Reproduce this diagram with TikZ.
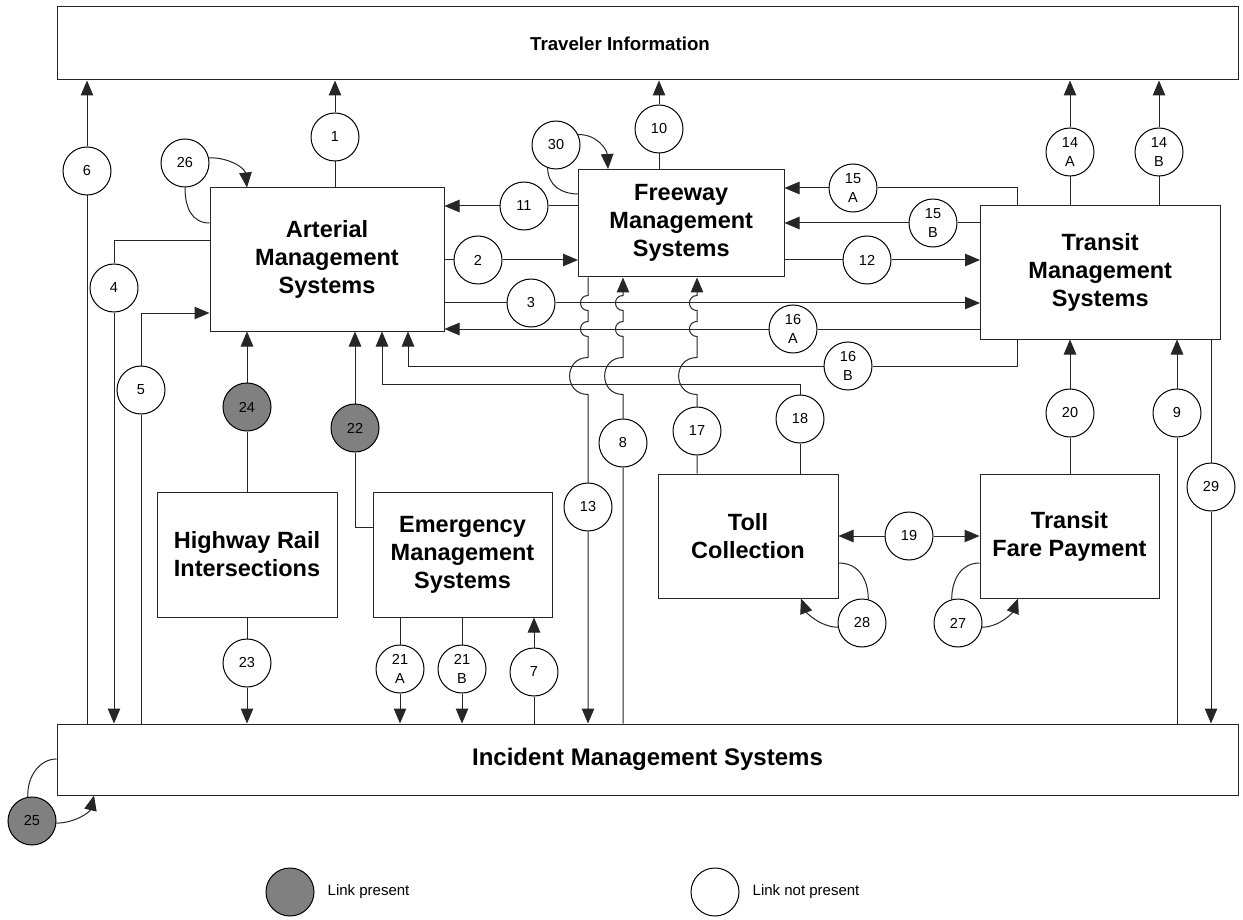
\documentclass[tikz,border=0pt]{standalone}
\usepackage{fontspec}
\setmainfont{Liberation Sans}
\usetikzlibrary{arrows.meta,calc}
\definecolor{linkgray}{HTML}{808080}
\pgfdeclarelayer{bg}
\pgfsetlayers{bg,main}
\newcommand{\myhops}[1]{-- (#1,295.5) .. controls (#1-10,295.5) and (#1-10,310.5) .. (#1,310.5) -- (#1,321.5) .. controls (#1-10,321.5) and (#1-10,336.5) .. (#1,336.5) -- (#1,357.5) .. controls (#1-24.5,357.5) and (#1-24.5,394.5) .. (#1,394.5)}
\newcommand{\myhopsup}[1]{-- (#1,394.5) .. controls (#1-24.5,394.5) and (#1-24.5,357.5) .. (#1,357.5) -- (#1,336.5) .. controls (#1-10,336.5) and (#1-10,321.5) .. (#1,321.5) -- (#1,310.5) .. controls (#1-10,310.5) and (#1-10,295.5) .. (#1,295.5)}
\begin{document}
\begin{tikzpicture}[x=1pt,y=-1pt,
  box/.style={draw=black!85,fill=white,line width=1pt,inner sep=0pt,align=center,font=\bfseries\fontsize{23.5}{28}\selectfont},
  lk/.style={circle,draw=black,fill=white,line width=1pt,minimum size=48pt,inner sep=0pt,align=center,font=\fontsize{14.5}{18.5}\selectfont},
  lkp/.style={lk,fill=linkgray},
  con/.style={draw=black!85,line width=1pt},
  arr/.style={con,-{Triangle[length=15pt,width=12.5pt]}},
  legtext/.style={anchor=west,font=\fontsize{15}{18}\selectfont,inner sep=0pt}
]
\useasboundingbox (0,0) rectangle (1243,920);

% boxes
\node[box,minimum width=1181pt,minimum height=73pt] (ti) at (647.5,43.5) {};
\node[font=\bfseries\fontsize{18.7}{22}\selectfont,inner sep=0pt] (tit) at (620,44) {Traveler Information};
\node[box,minimum width=1181pt,minimum height=71pt,font=\bfseries\fontsize{24}{28}\selectfont] (inc) at (647.5,759.5) {Incident Management Systems};
\node[box,minimum width=234pt,minimum height=143pt] (art) at (327,259.5) {Arterial\\Management\\Systems};
\node[box,minimum width=205.5pt,minimum height=107.5pt] (fw) at (681.25,223.25) {Freeway\\Management\\Systems};
\node[box,minimum width=239.5pt,minimum height=133pt] (tms) at (1100.25,272.5) {Transit\\Management\\Systems};
\node[box,minimum width=180pt,minimum height=125pt] (hr) at (247,554.5) {Highway Rail\\Intersections};
\node[box,minimum width=179pt,minimum height=125pt] (em) at (462.5,554.5) {Emergency\\Management\\Systems};
\node[box,minimum width=180pt,minimum height=124pt] (toll) at (748,536) {Toll\\Collection};
\node[box,minimum width=179pt,minimum height=124pt] (fare) at (1069.5,536) {Transit\\Fare Payment};

% link circles
\node[lk] (c1) at (335,137) {1};
\node[lk] (c2) at (478,260) {2};
\node[lk] (c3) at (531,303) {3};
\node[lk] (c4) at (114,288) {4};
\node[lk] (c5) at (141,390) {5};
\node[lk] (c6) at (87,171) {6};
\node[lk] (c7) at (534,672) {7};
\node[lk] (c8) at (623,443) {8};
\node[lk] (c9) at (1177,413) {9};
\node[lk] (c10) at (659,129) {10};
\node[lk] (c11) at (524,206) {11};
\node[lk] (c12) at (867,260) {12};
\node[lk] (c13) at (588,507) {13};
\node[lk] (c14a) at (1070,152) {14\\A};
\node[lk] (c14b) at (1159,152) {14\\B};
\node[lk] (c15a) at (853,188) {15\\A};
\node[lk] (c15b) at (933,223) {15\\B};
\node[lk] (c16a) at (793,329) {16\\A};
\node[lk] (c16b) at (848,366) {16\\B};
\node[lk] (c17) at (697,431) {17};
\node[lk] (c18) at (800,419) {18};
\node[lk] (c19) at (909,536) {19};
\node[lk] (c20) at (1070,413) {20};
\node[lk] (c21a) at (400,669) {21\\A};
\node[lk] (c21b) at (462,669) {21\\B};
\node[lkp] (c22) at (355,428) {22};
\node[lk] (c23) at (247,663) {23};
\node[lkp] (c24) at (247,407) {24};
\node[lkp] (c25) at (32,821) {25};
\node[lk] (c26) at (185,163) {26};
\node[lk] (c27) at (958,623) {27};
\node[lk] (c28) at (862,623) {28};
\node[lk] (c29) at (1211,487) {29};
\node[lk] (c30) at (556,145) {30};

% legend
\node[lkp] (lg1) at (290,892) {};
\node[legtext] (lt1) at ($(lg1.east)+(13,0)$) {Link present};
\node[lk] (lg2) at (715,892) {};
\node[legtext] (lt2) at ($(lg2.east)+(13,0)$) {Link not present};

% bend points
\coordinate (p4) at (114,241);
\coordinate (p5) at (141,313);
\coordinate (p15) at (1017,188);
\coordinate (p16) at (1017,366);
\coordinate (q16) at (408,366);
\coordinate (p18) at (800,384);
\coordinate (q18) at (382,384);
\coordinate (p22) at (355,527);
\coordinate (a25) at (0,759);
\coordinate (b25) at (94,0);
\coordinate (a26) at (0,223);
\coordinate (b26) at (247,0);
\coordinate (a27) at (0,563);
\coordinate (b27) at (1018,0);
\coordinate (a28) at (0,563);
\coordinate (b28) at (801,0);
\coordinate (a30) at (0,194);
\coordinate (b30) at (608,0);

\begin{pgfonlayer}{bg}
\fill[white] (0,0) rectangle (1243,920);
\draw[arr] (art.north -| c1) -- (c1) -- (c1 |- ti.south);
\draw[arr] (art.east |- c2) -- (c2) -- (c2 -| fw.west);
\draw[arr] (art.east |- c3) -- (c3) -- (c3 -| tms.west);
\draw[arr] (art.west |- p4) -- (p4) -- (c4) -- (c4 |- inc.north);
\draw[arr] (inc.north -| c5) -- (c5) -- (p5) -- (p5 -| art.west);
\draw[arr] (inc.north -| c6) -- (c6) -- (c6 |- ti.south);
\draw[arr] (inc.north -| c7) -- (c7) -- (c7 |- em.south);
\draw[arr] (inc.north -| c8) -- (c8) -- (623,394.5) \myhopsup{623} -- (fw.south -| c8);
\draw[arr] (inc.north -| c9) -- (c9) -- (c9 |- tms.south);
\draw[arr] (fw.north -| c10) -- (c10) -- (c10 |- ti.south);
\draw[arr] (fw.west |- c11) -- (c11) -- (c11 -| art.east);
\draw[arr] (fw.east |- c12) -- (c12) -- (c12 -| tms.west);
\draw[arr] (fw.south -| c13) \myhops{588} -- (c13) -- (c13 |- inc.north);
\draw[arr] (tms.north -| c14a) -- (c14a) -- (c14a |- ti.south);
\draw[arr] (tms.north -| c14b) -- (c14b) -- (c14b |- ti.south);
\draw[arr] (tms.north -| p15) -- (p15) -- (c15a) -- (c15a -| fw.east);
\draw[arr] (tms.west |- c15b) -- (c15b) -- (c15b -| fw.east);
\draw[arr] (tms.west |- c16a) -- (c16a) -- (c16a -| art.east);
\draw[arr] (tms.south -| p16) -- (p16) -- (c16b) -- (q16) -- (q16 |- art.south);
\draw[arr] (toll.north -| c17) -- (c17) -- (697,394.5) \myhopsup{697} -- (fw.south -| c17);
\draw[arr] (toll.north -| c18) -- (c18) -- (p18) -- (q18) -- (q18 |- art.south);
\draw[arr] (c19) -- (c19 -| toll.east);
\draw[arr] (c19) -- (c19 -| fare.west);
\draw[arr] (fare.north -| c20) -- (c20) -- (c20 |- tms.south);
\draw[arr] (em.south -| c21a) -- (c21a) -- (c21a |- inc.north);
\draw[arr] (em.south -| c21b) -- (c21b) -- (c21b |- inc.north);
\draw[arr] (em.west |- p22) -- (p22) -- (c22) -- (c22 |- art.south);
\draw[arr] (hr.south -| c23) -- (c23) -- (c23 |- inc.north);
\draw[arr] (hr.north -| c24) -- (c24) -- (c24 |- art.south);
\draw[arr] (tms.south -| c29) -- (c29) -- (c29 |- inc.north);
% self loops
\draw[con] (c25.100) .. controls (27,776) and (40,759) .. (inc.west |- a25);
\draw[arr] (c25.-5) .. controls (75,823) and (90,812) .. (inc.south -| b25);
\draw[con] (c26.south) .. controls (185,208) and (192,223) .. (art.west |- a26);
\draw[arr] (c26.12) .. controls (228,157) and (245,168) .. (art.north -| b26);
\draw[con] (toll.east |- a28) .. controls (858,563) and (868,578) .. (c28.75);
\draw[arr] (c28.190) .. controls (820,627) and (806,612) .. (toll.south -| b28);
\draw[con] (fare.west |- a27) .. controls (962,563) and (952,578) .. (c27.105);
\draw[arr] (c27.-10) .. controls (1000,627) and (1013,612) .. (fare.south -| b27);
\draw[con] (c30.250) .. controls (548,186) and (562,194) .. (fw.west |- a30);
\draw[arr] (c30.25) .. controls (597,134) and (607,150) .. (fw.north -| b30);
\end{pgfonlayer}
\end{tikzpicture}
\end{document}
